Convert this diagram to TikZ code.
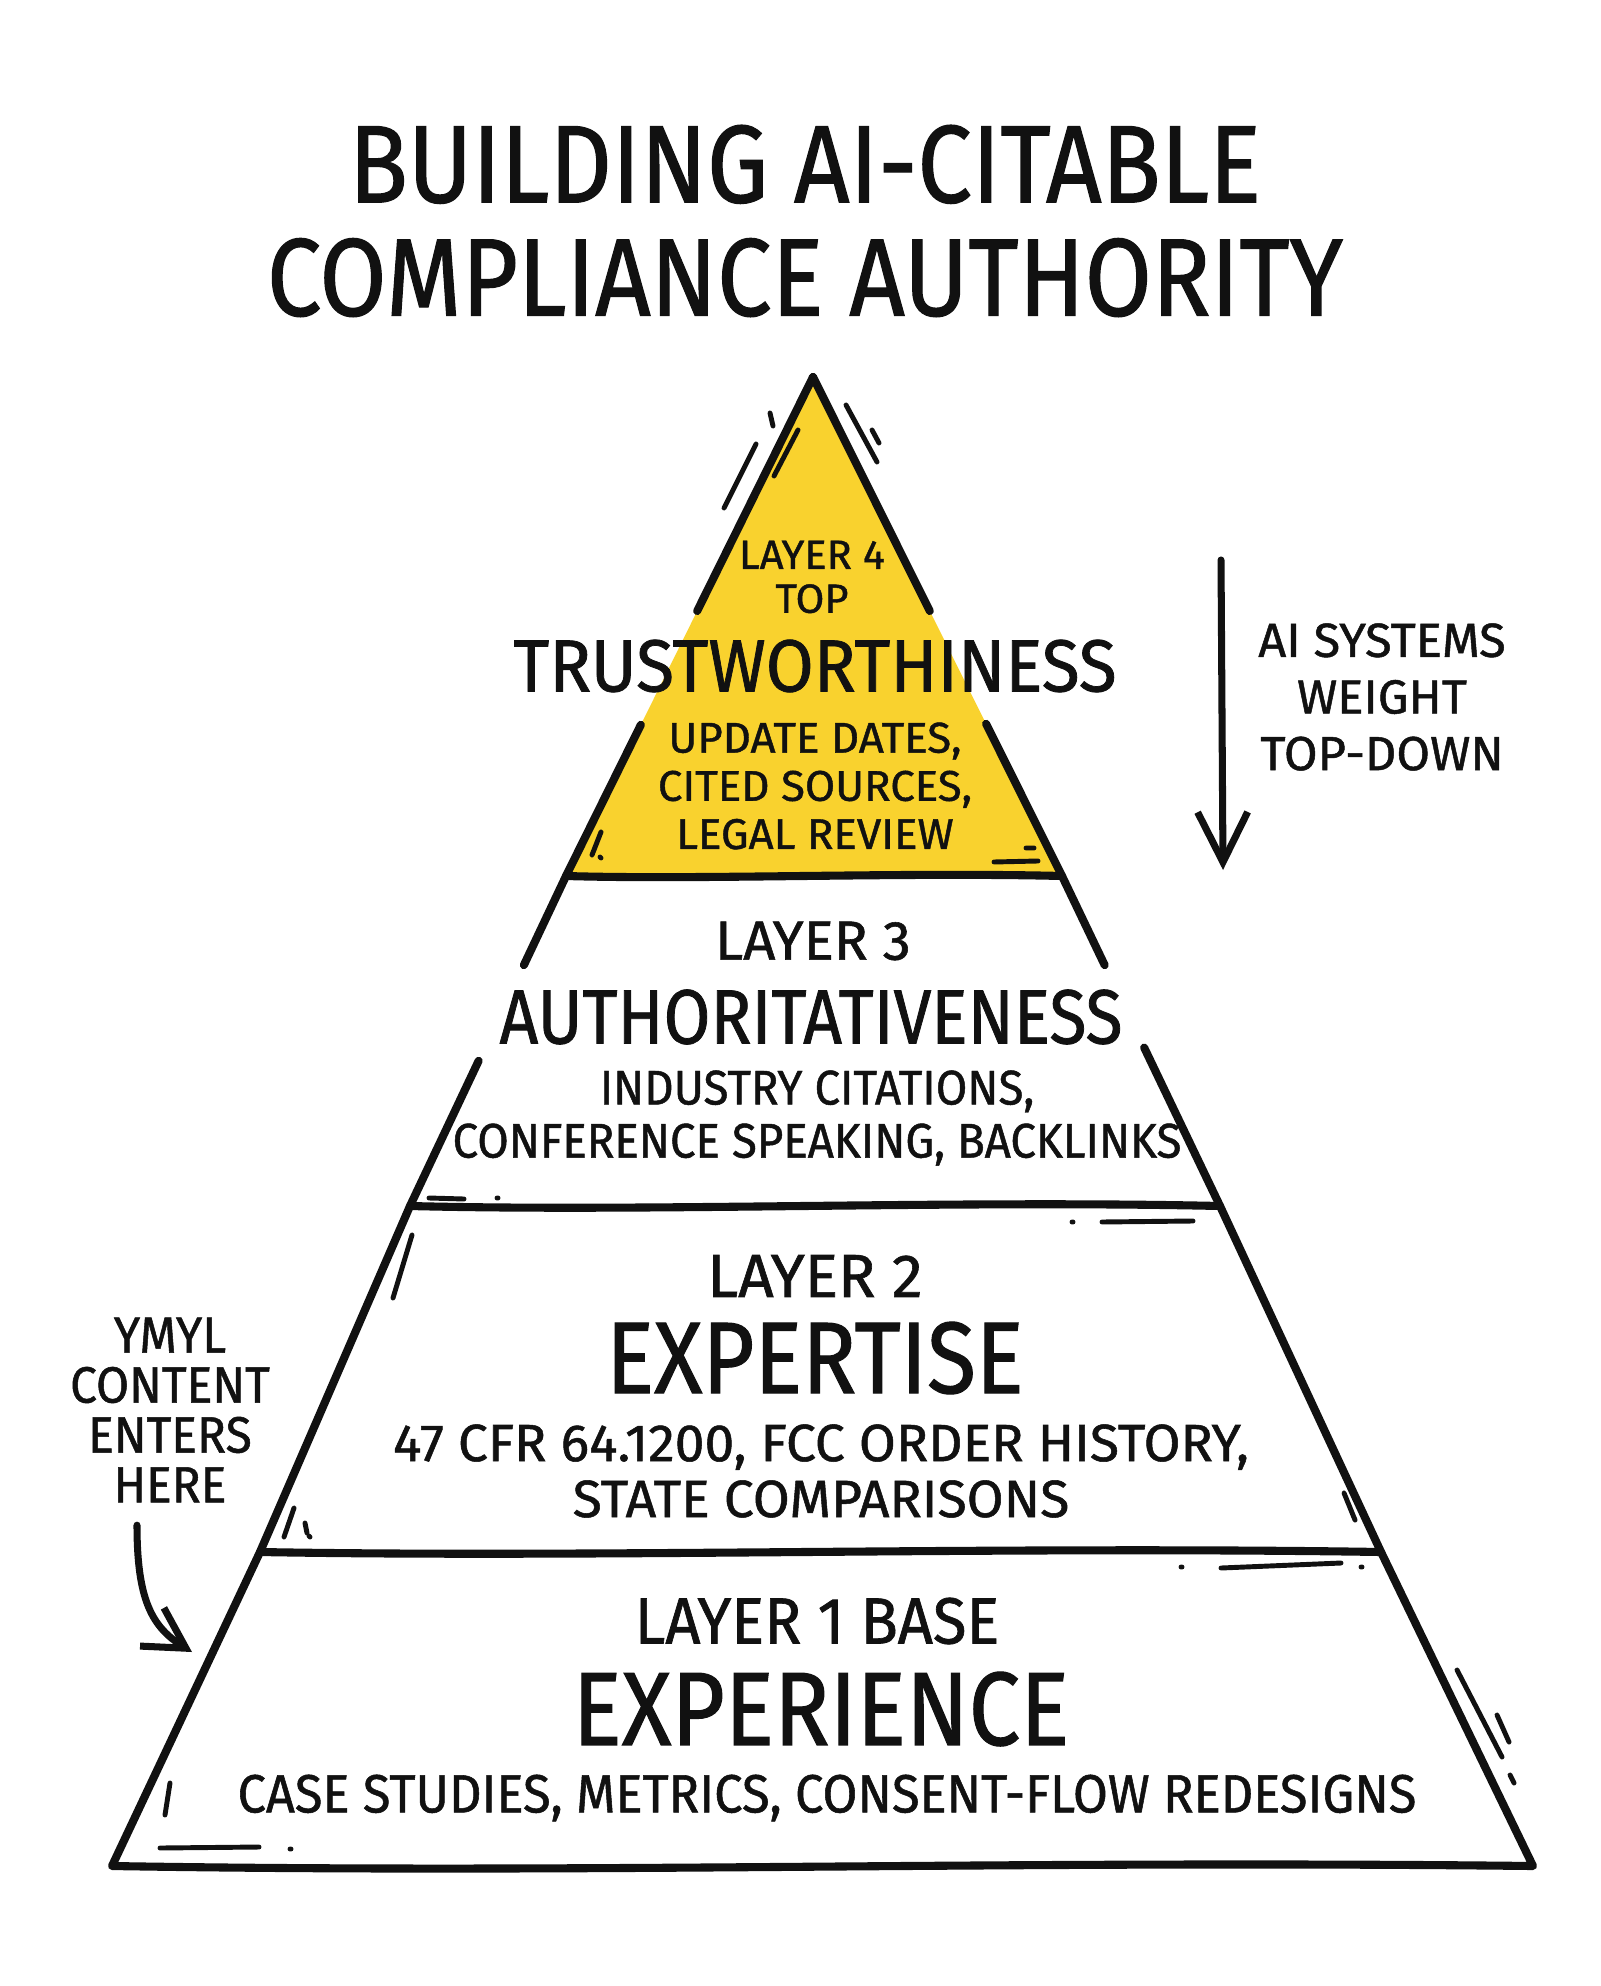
\documentclass[tikz,border=0pt]{standalone}
\usepackage{fontspec}
\usepackage{tikz}
\usetikzlibrary{arrows.meta, positioning, calc}
\newfontfamily\handN[FakeStretch=0.88, FakeBold=1]{Fira Sans}
\newfontfamily\handM[FakeStretch=0.94, FakeBold=1]{Fira Sans}
\newfontfamily\handW[FakeStretch=1.02, FakeBold=1]{Fira Sans}
\definecolor{inkA}{HTML}{111111}
\definecolor{yellowA}{HTML}{F9D22E}
\tikzset{
  edge/.style={draw=inkA, line width=2.3pt, line cap=round, line join=round},
  scribble/.style={draw=inkA, line width=1.4pt, line cap=round},
  txt/.style 2 args={font=\handN\fontsize{#1}{#2}\selectfont, text=inkA,
    align=center, inner sep=0pt},
  txtm/.style 2 args={txt={#1}{#2}, font=\handM\fontsize{#1}{#2}\selectfont},
  txtw/.style 2 args={txt={#1}{#2}, font=\handW\fontsize{#1}{#2}\selectfont},
  penarrow/.style={-{Straight Barb[length=5mm, width=5mm]}, draw=inkA,
    line width=2pt, line cap=round, line join=round}
}

\begin{document}
\begin{tikzpicture}[x=0.01cm, y=-0.01cm]
  \useasboundingbox (0,0) rectangle (1600,1986);
  \fill[white] (0,0) rectangle (1600,1986);

  % pyramid corners
  \coordinate (A)  at (813,377);
  \coordinate (L4) at (566,876);  \coordinate (R4) at (1062,876);
  \coordinate (L3) at (410,1206); \coordinate (R3) at (1220,1206);
  \coordinate (L2) at (260,1552); \coordinate (R2) at (1381,1552);
  \coordinate (L1) at (112,1866); \coordinate (R1) at (1533,1866);

  \fill[yellowA] (A) -- (L4) -- (R4) -- cycle;

  % outline, with gaps where the big words cross it
  \draw[edge] (A) -- ($(A)!0.469!(L4)$);
  \draw[edge] ($(A)!0.697!(L4)$) -- (L4) -- ($(L4)!0.27!(L3)$);
  \draw[edge] ($(L4)!0.56!(L3)$) -- (L3) -- (L2) -- (L1)
    .. controls (600,1874) and (1000,1860) .. (R1) -- (R2) -- (R3) -- ($(R3)!0.48!(R4)$);
  \draw[edge] ($(R3)!0.73!(R4)$) -- (R4) -- ($(R4)!0.305!(A)$);
  \draw[edge] ($(R4)!0.531!(A)$) -- (A);
  \draw[edge] (L4) .. controls (700,880) and (900,872) .. (R4);
  \draw[edge] (L3) .. controls (650,1212) and (950,1200) .. (R3);
  \draw[edge] (L2) .. controls (600,1558) and (1000,1546) .. (R2);

  % sketch strokes
  \draw[scribble] (770,413) -- (773,426);
  \draw[scribble] (756,444) -- (724,508);
  \draw[scribble] (798,430) -- (774,476);
  \draw[scribble] (846,405) -- (877,462);
  \draw[scribble] (872,430) -- (879,443);
  \draw[scribble] (601,832) -- (592,855) (600,857) -- (601,858);
  \draw[scribble] (994,862) -- (1038,861) (1026,848) -- (1034,848);
  \draw[scribble] (429,1198) -- (464,1199) (497,1198) -- (498,1198);
  \draw[scribble] (1072,1222) -- (1073,1222) (1102,1222) -- (1193,1221);
  \draw[scribble] (412,1235) -- (393,1298);
  \draw[scribble] (294,1508) -- (284,1537) (305,1523) -- (307,1533) (309,1536) -- (310,1537);
  \draw[scribble] (1344,1493) -- (1355,1520);
  \draw[scribble] (1181,1567) -- (1182,1567) (1221,1568) -- (1341,1563) (1361,1567) -- (1362,1567);
  \draw[scribble] (160,1848) -- (259,1847) (290,1849) -- (291,1849);
  \draw[scribble] (170,1783) -- (165,1815);
  \draw[scribble] (1457,1670) -- (1502,1757) (1497,1715) -- (1509,1742) (1510,1775) -- (1514,1783);

  % title
  \node[txt={31.4}{32.2}] (title) at (805,221) {BUILDING AI-CITABLE\\COMPLIANCE AUTHORITY};

  % layer 4
  \node[txtw={11.6}{12.5}] (tag4) at (812,577) {LAYER 4\\TOP};
  \node[txtm={21}{24}] (name4) at (815,666) {TRUSTWORTHINESS};
  \node[txtw={12.2}{13.7}] (note4) at (815,786) {UPDATE DATES,\\CITED SOURCES,\\LEGAL REVIEW};

  % layer 3
  \node[txtw={15.7}{18}] (tag3) at (813,941) {LAYER 3};
  \node[txt={21.9}{24}] (name3) at (811,1017) {AUTHORITATIVENESS};
  \node[txtm={13.8}{15.1}] (note3) at (817,1118) {INDUSTRY CITATIONS,\\CONFERENCE SPEAKING, BACKLINKS};

  % layer 2
  \node[txtw={17.3}{20}] (tag2) at (815,1276) {LAYER 2};
  \node[txt={28.9}{32}] (name2) at (815,1358) {EXPERTISE};
  \node[txtw={14.9}{15.9}] (note2) at (821,1471) {47 CFR 64.1200, FCC ORDER HISTORY,\\STATE COMPARISONS};

  % layer 1
  \node[txtm={18.6}{21}] (tag1) at (817,1621) {LAYER 1 BASE};
  \node[txt={29.7}{33}] (name1) at (821,1709) {EXPERIENCE};
  \node[txtm={15.3}{17}] (note1) at (827,1798) {CASE STUDIES, METRICS, CONSENT-FLOW REDESIGNS};

  % side notes
  \node[txtw={13.6}{16.1}] (weight) at (1382,697) {AI SYSTEMS\\WEIGHT\\TOP-DOWN};
  \coordinate (wtop) at (1221,560);
  \coordinate (wbot) at (1223,870);
  \draw[penarrow] (wtop) -- (wbot);

  \node[txtm={14.5}{14.2}] (ymyl) at (170,1410) {YMYL\\CONTENT\\ENTERS\\HERE};
  \coordinate (entry) at (192,1652);
  \draw[penarrow, -{Straight Barb[length=4mm, width=4.5mm]}]
    (ymyl.south) ++(-33,22) .. controls +(0,75) and +(-40,-25) .. (entry);
\end{tikzpicture}
\end{document}
